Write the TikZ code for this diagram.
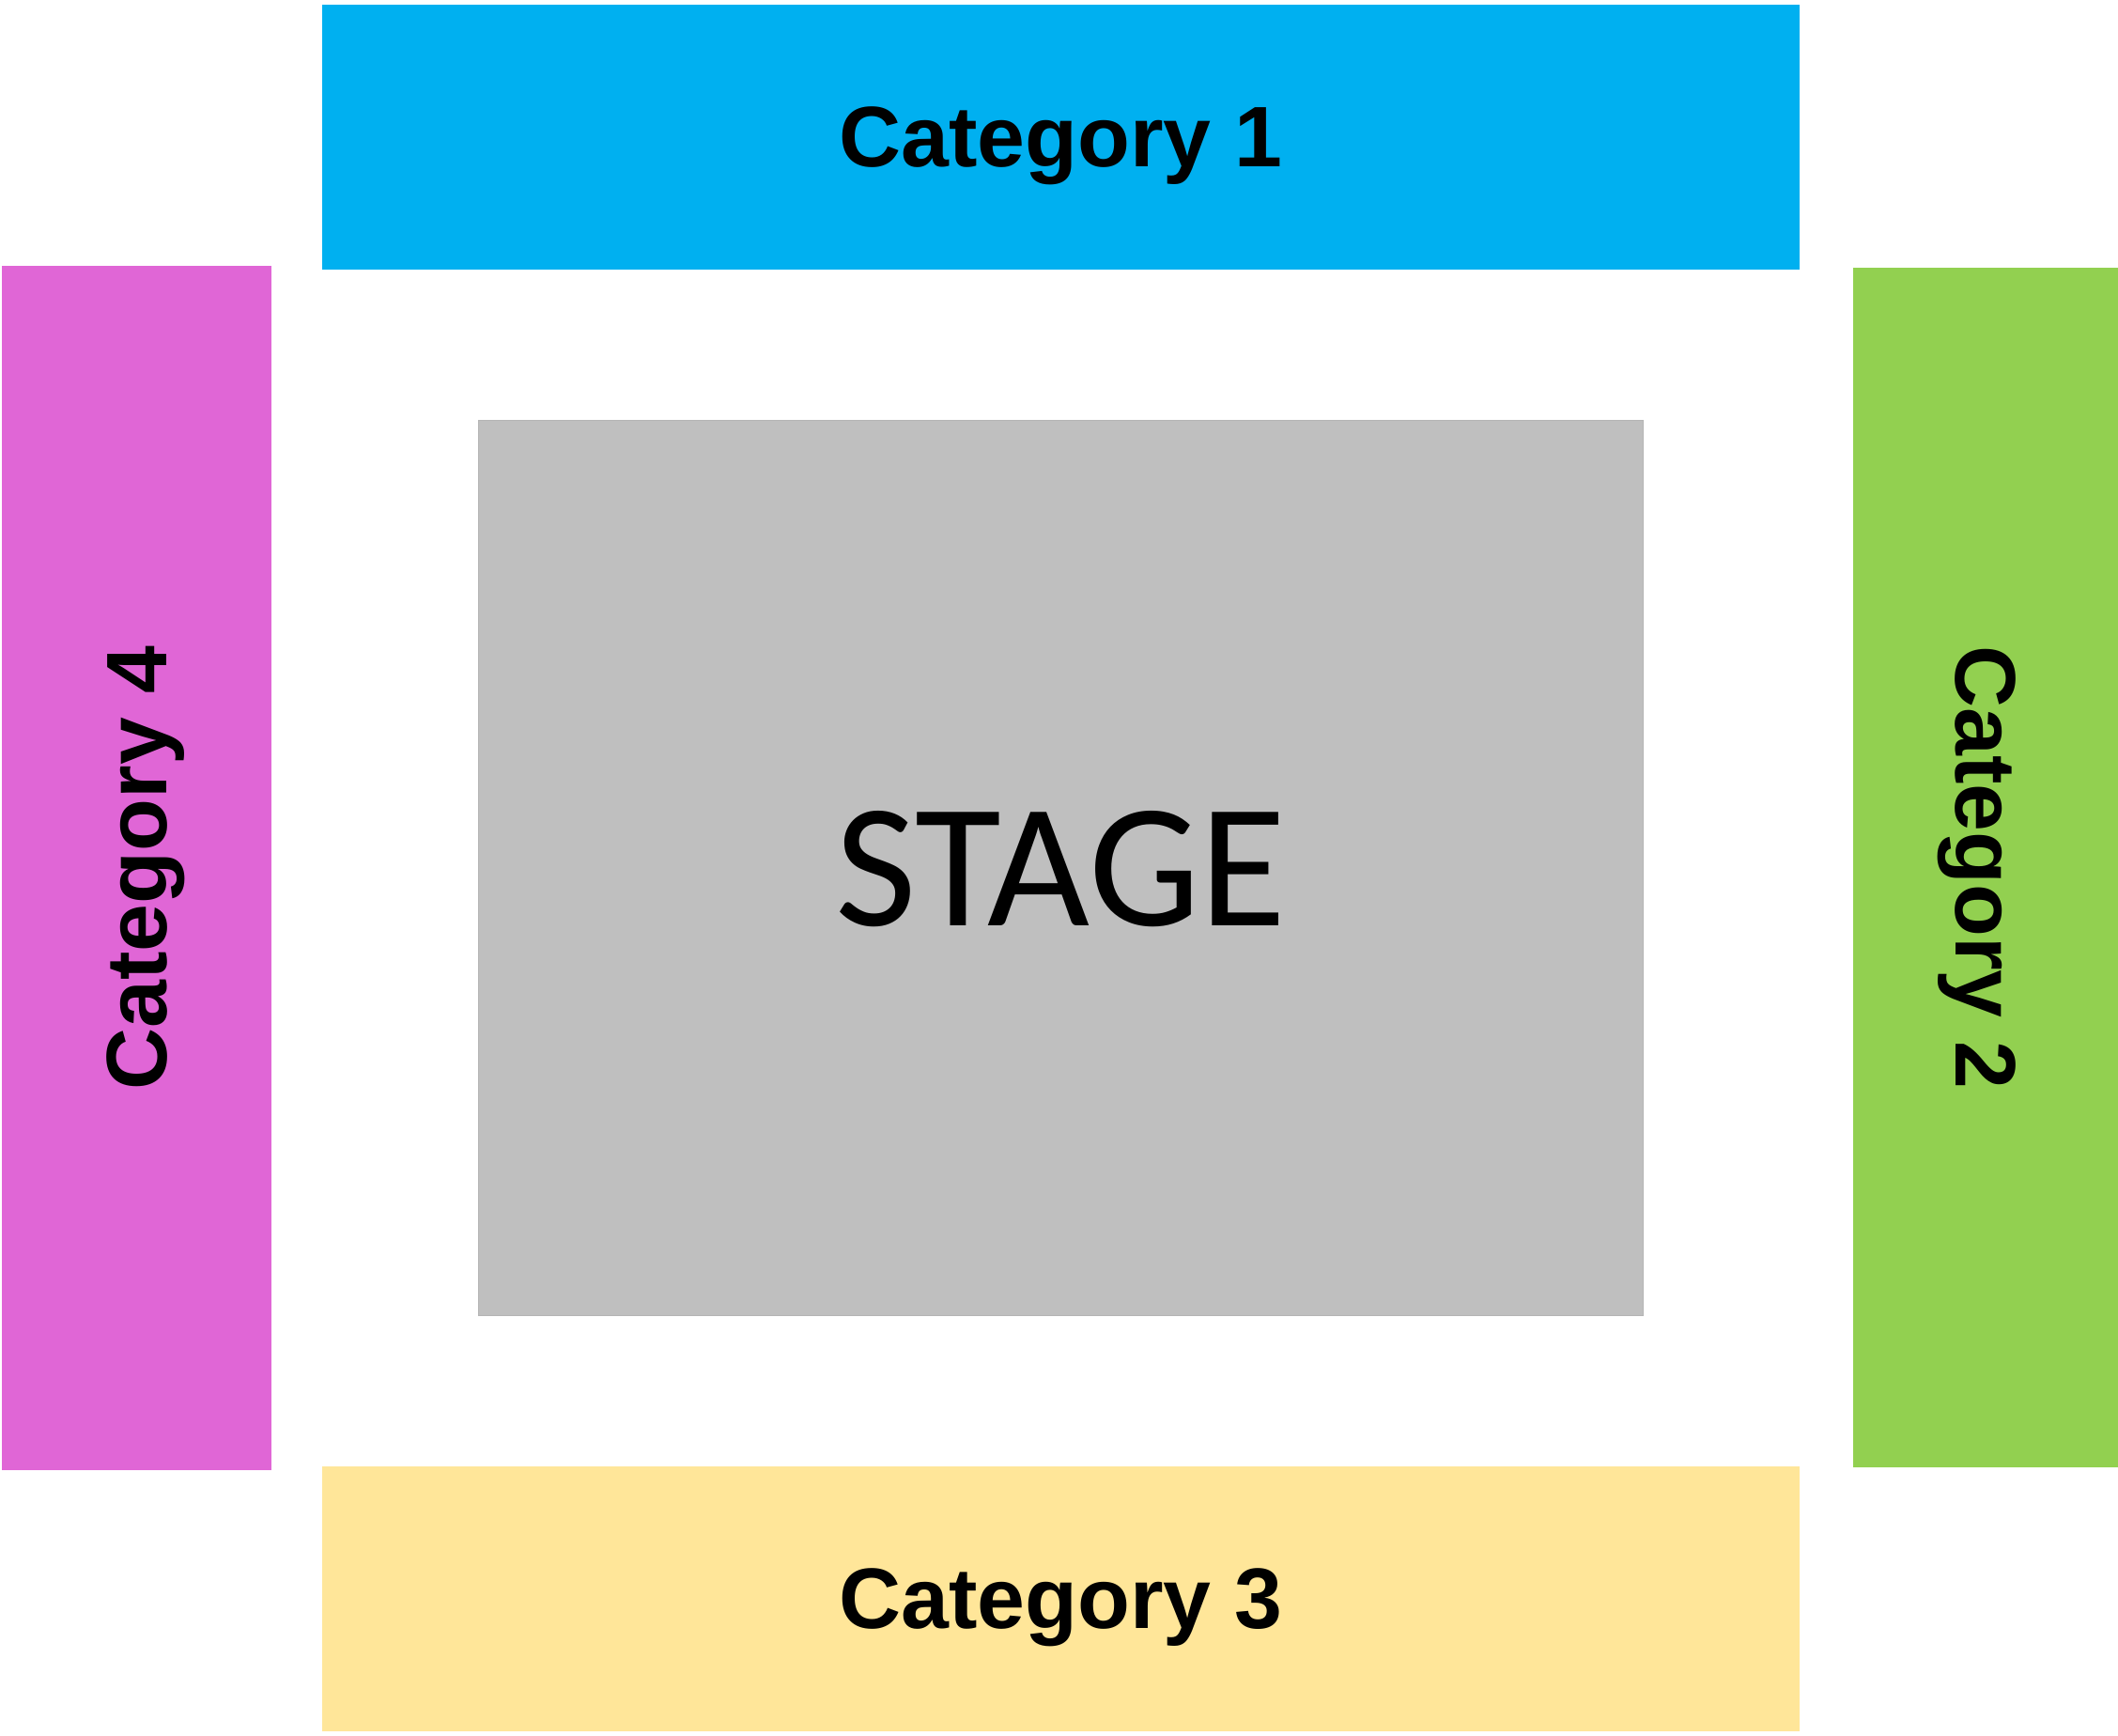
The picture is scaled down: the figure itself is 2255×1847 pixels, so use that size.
\documentclass[tikz,border=0pt]{standalone}
\usepackage{fontspec}
\setmainfont{Liberation Sans}
\newfontfamily\stagefont{Carlito}
\definecolor{catone}{HTML}{00B0F0}
\definecolor{cattwo}{HTML}{92D050}
\definecolor{catthree}{HTML}{FFE699}
\definecolor{catfour}{HTML}{E066D6}
\definecolor{stagegray}{HTML}{BFBFBF}
\tikzset{
	seats/.style={rectangle, inner sep=0pt, outer sep=0pt, text depth=0pt,
		font=\fontsize{26}{30}\selectfont\bfseries},
	stagebox/.style={rectangle, inner sep=0pt, outer sep=0pt, text depth=0pt,
		fill=stagegray, draw=stagegray!95!black, line width=0.3pt,
		font=\stagefont\fontsize{53.5}{60}\selectfont}
}
\begin{document}
\begin{tikzpicture}[x=0.01cm, y=-0.01cm]
	\useasboundingbox (0,0) rectangle (2255,1847);
	% stage in the middle
	\node[stagebox, minimum width=12.39cm, minimum height=9.52cm] (stage) at (1129.5,924) {STAGE};
 	% seating blocks round it
 	\node[seats, fill=catone, minimum width=15.73cm, minimum height=2.82cm] (cat1) at (1129.5,146) {Category 1};
 	\node[seats, fill=cattwo, rotate=-90, minimum width=12.77cm, minimum height=2.82cm] (cat2) at (2114,923.5) {Category 2};
 	\node[seats, fill=catthree, minimum width=15.73cm, minimum height=2.82cm] (cat3) at (1129.5,1702) {Category 3};
 	\node[seats, fill=catfour, rotate=90, minimum width=12.82cm, minimum height=2.87cm] (cat4) at (145.5,924) {Category 4};
\end{tikzpicture}
\end{document}
